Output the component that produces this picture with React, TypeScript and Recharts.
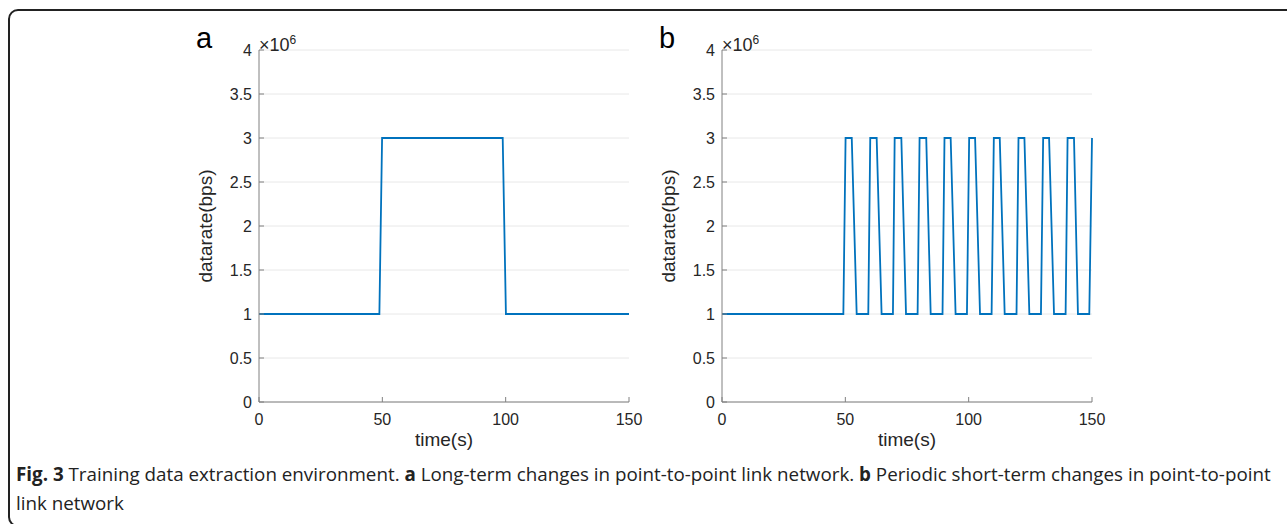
import { CartesianGrid, Line, LineChart, XAxis, YAxis } from "recharts";

// panel a: one long step up and back down
const timeA = [0, 48.8, 49.9, 98.8, 100.1, 150];
const rateA = [1e6, 1e6, 3e6, 3e6, 1e6, 1e6];

// panel b: periodic short pulses from t=50 on
const timeB = [
  0, 49.2, 50.1, 52.6, 54.6, 59.3, 60.1, 62.7, 64.7, 69.3, 70.0, 72.7, 74.6, 79.3, 80.1,
  82.8, 84.6, 89.4, 90.2, 92.7, 94.7, 99.3, 100.2, 102.6, 104.6, 109.3, 110.2, 112.6,
  114.6, 119.4, 120.2, 122.6, 124.6, 129.3, 130.2, 132.6, 134.6, 139.3, 140.1, 142.7,
  144.3, 148.9, 150,
];
const rateB = [
  1e6, 1e6, 3e6, 3e6, 1e6, 1e6, 3e6, 3e6, 1e6, 1e6, 3e6, 3e6, 1e6, 1e6, 3e6,
  3e6, 1e6, 1e6, 3e6, 3e6, 1e6, 1e6, 3e6, 3e6, 1e6, 1e6, 3e6, 3e6,
  1e6, 1e6, 3e6, 3e6, 1e6, 1e6, 3e6, 3e6, 1e6, 1e6, 3e6, 3e6,
  1e6, 1e6, 3e6,
];

const xTicks = [0, 50, 100, 150];
const yTicks = [0, 5e5, 1e6, 1.5e6, 2e6, 2.5e6, 3e6, 3.5e6, 4e6];

const LINE_BLUE = "#0072BD";
const AXIS = "#808080";
const TEXT = "#262626";
const FONT = '"Liberation Sans", Arial, Helvetica, sans-serif';

function toRows(times: number[], rates: number[]) {
  return times.map((t, i) => ({ t, rate: rates[i] }));
}

function YLabel(props: any) {
  const vb = props.viewBox || { x: 0, y: 50, width: 259, height: 352 };
  const cx = vb.x + vb.width - 54;
  const cy = vb.y + vb.height / 2;
  return (
    <text
      x={cx}
      y={cy}
      transform={`rotate(-90 ${cx} ${cy})`}
      textAnchor="middle"
      dominantBaseline="central"
      fontSize={19}
      fill={TEXT}
      fontFamily={FONT}
    >
      datarate(bps)
    </text>
  );
}

interface PanelProps {
  times: number[];
  rates: number[];
  letter: string;
  left: number;
}

function Panel({ times, rates, letter, left }: PanelProps) {
  const data = toRows(times, rates);
  const tickStyle = { fill: TEXT, fontSize: 16, fontFamily: FONT };
  return (
    <div style={{ position: "absolute", left, top: 0, width: 660, height: 470 }}>
      <LineChart width={660} height={470} data={data} margin={{ top: 50, right: 31, bottom: 24, left: 0 }}>
        <CartesianGrid stroke="#e8e8e8" vertical={false} />
        <XAxis
          dataKey="t"
          type="number"
          domain={[0, 150]}
          ticks={xTicks}
          height={44}
          stroke={AXIS}
          tickSize={-5}
          tickMargin={17}
          tick={tickStyle}
          label={{ value: "time(s)", position: "insideBottom", offset: 0, fill: TEXT, fontSize: 19, fontFamily: FONT }}
        />
        <XAxis
          xAxisId="top"
          orientation="top"
          type="number"
          domain={[0, 150]}
          ticks={xTicks}
          height={0}
          stroke={AXIS}
          tickSize={-5}
          tick={false}
        />
        <YAxis
          type="number"
          domain={[0, 4e6]}
          ticks={yTicks}
          width={259}
          stroke={AXIS}
          tickSize={-5}
          tickMargin={12}
          tick={tickStyle}
          tickFormatter={(v: number) => String(v / 1e6)}
          label={<YLabel />}
        />
        <YAxis
          yAxisId="right"
          orientation="right"
          type="number"
          domain={[0, 4e6]}
          ticks={yTicks}
          width={0}
          stroke={AXIS}
          tickSize={-5}
          tick={false}
        />
        <Line
          type="linear"
          dataKey="rate"
          stroke={LINE_BLUE}
          strokeWidth={1.8}
          dot={false}
          isAnimationActive={false}
        />
      </LineChart>
      <div style={{ position: "absolute", left: 196, top: 22, fontFamily: FONT, fontSize: 29, color: "#000", lineHeight: "32px" }}>
        {letter}
      </div>
      <div style={{ position: "absolute", left: 259, top: 29, fontFamily: FONT, fontSize: 18, color: TEXT, lineHeight: "22px" }}>
        ×10<sup style={{ fontSize: 12 }}>6</sup>
      </div>
    </div>
  );
}

export default function App() {
  return (
    <div
      style={{
        position: "fixed",
        left: 0,
        top: 0,
        width: 1287,
        height: 524,
        background: "#fff",
        overflow: "hidden",
      }}
    >
      <div
        style={{
          position: "absolute",
          left: 8,
          top: 9,
          width: 1400,
          height: 518,
          border: "2px solid #222",
          borderRadius: 10,
          boxSizing: "border-box",
        }}
      />
      <Panel times={timeA} rates={rateA} letter="a" left={0} />
      <Panel times={timeB} rates={rateB} letter="b" left={463} />
      <div
        style={{
          position: "absolute",
          left: 16,
          top: 460,
          width: 1268,
          fontFamily: '"Open Sans", sans-serif',
          fontSize: 18.8,
          lineHeight: "29px",
          color: "#222",
          whiteSpace: "nowrap",
        }}
      >
        <b>Fig. 3</b> Training data extraction environment. <b>a</b> Long-term changes in point-to-point link network.{" "}
        <b>b</b> Periodic short-term changes in point-to-point
        <br />
        link network
      </div>
    </div>
  );
}
